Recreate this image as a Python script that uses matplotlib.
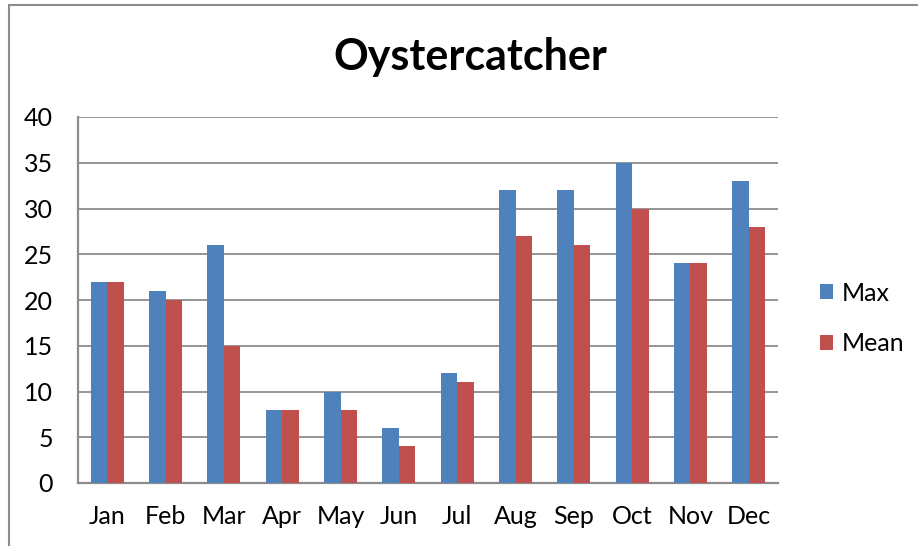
import matplotlib.pyplot as plt
import numpy as np
from matplotlib.patches import Rectangle

months = ["Jan", "Feb", "Mar", "Apr", "May", "Jun", "Jul", "Aug", "Sep", "Oct", "Nov", "Dec"]
max_counts = [22, 21, 26, 8, 10, 6, 12, 32, 32, 35, 24, 33]
mean_counts = [22, 20, 15, 8, 8, 4, 11, 27, 26, 30, 24, 28]
y_ticks = [0, 5, 10, 15, 20, 25, 30, 35, 40]

plt.rcParams['font.family'] = ['Lato', 'DejaVu Sans']

W, H = 918, 546
fig = plt.figure(figsize=(W / 100, H / 100), dpi=100)
ax = fig.add_axes([78 / W, 1 - 483 / H, 700 / W, 366 / H])

x = np.arange(len(months))
bw = 0.285
ax.bar(x - bw / 2, max_counts, bw, color='#4F81BD', label='Max', zorder=3)
ax.bar(x + bw / 2, mean_counts, bw, color='#C0504D', label='Mean', zorder=3)

ax.set_xlim(-0.5, len(months) - 0.5)
ax.set_ylim(0, 40)
ax.set_yticks(y_ticks)
ax.set_xticks(x)
ax.set_xticklabels(months)
ax.tick_params(axis='both', length=0, labelsize=18, colors='black')
ax.tick_params(axis='x', pad=16)
ax.tick_params(axis='y', pad=18)
ax.yaxis.grid(True, color='#8c8c8c', linewidth=1.3, zorder=0)
for side in ['top', 'right']:
    ax.spines[side].set_visible(False)
for side in ['left', 'bottom']:
    ax.spines[side].set_color('#8c8c8c')
    ax.spines[side].set_linewidth(1.6)

fig.text(470 / W, 1 - 57 / H, "Oystercatcher", ha='center', va='center',
         fontsize=31, fontweight='bold')

leg = ax.legend(loc='center left', bbox_to_anchor=(1.045, 0.45), frameon=False,
                fontsize=18, handlelength=0.55, handleheight=0.55,
                handletextpad=0.35, labelspacing=1.1, borderaxespad=0)

# outer chart border
fig.patches.append(Rectangle((9 / W, -0.1), 1.2, 1 - 5 / H + 0.1, transform=fig.transFigure,
                             fill=False, edgecolor='#8c8c8c', linewidth=1.5))

plt.savefig("out.png", dpi=100)
